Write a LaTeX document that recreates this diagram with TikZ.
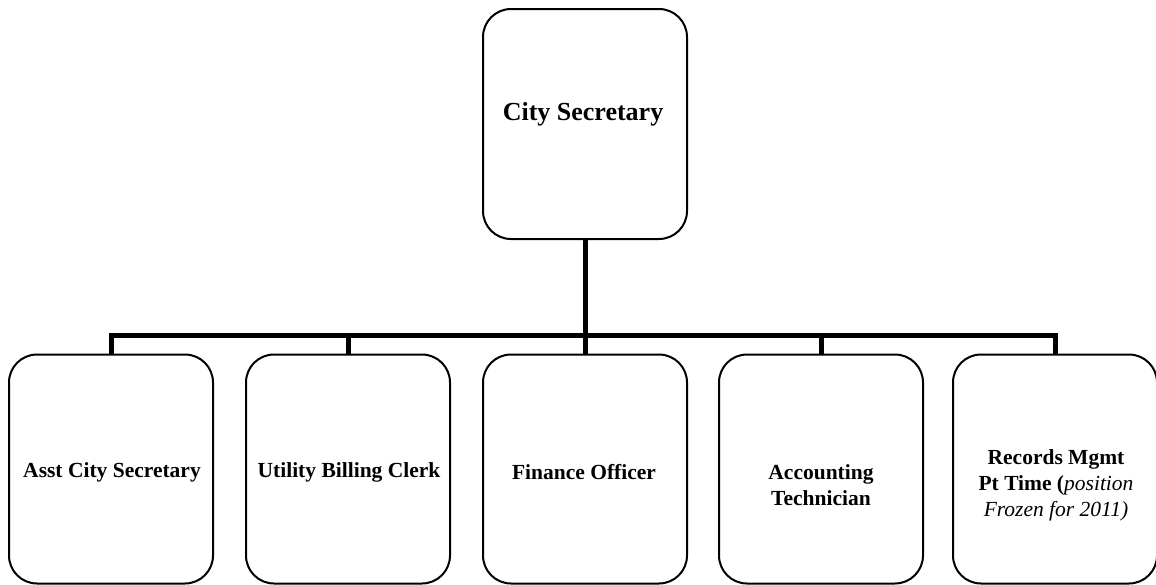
\documentclass[tikz,border=0pt]{standalone}
\usepackage{fontspec}
\setmainfont{Liberation Serif}
\begin{document}
\begin{tikzpicture}[x=1pt,y=-1pt,
  post/.style={draw=black, line width=2pt, rounded corners=28pt, fill=white,
    minimum width=204pt, minimum height=229pt, inner sep=0pt},
  title/.style={align=center, font=\fontsize{21.5}{26}\selectfont\bfseries, inner sep=0pt},
  conn/.style={draw=black, line width=5pt}]
\useasboundingbox (0,0) rectangle (1156,584);

% boxes
\node[post, minimum height=230pt] (top) at (585,124) {};
\node[post] (b1) at (111,469) {};
\node[post] (b2) at (348,469) {};
\node[post] (b3) at (585,469) {};
\node[post] (b4) at (821,469) {};
\node[post] (b5) at (1055,469) {};

% labels
\node[title, font=\fontsize{26}{30}\selectfont\bfseries] (ttop) at (583,114) {City Secretary};
\node[title] (t1) at (112,472) {Asst City Secretary};
\node[title] (t2) at (349,472) {Utility Billing Clerk};
\node[title] (t3) at (584,472) {Finance Officer};
\node[title] (t4) at (821,485) {Accounting\\Technician};
\node[title] (t5) at (1056,485) {Records Mgmt\\Pt Time (\textmd{\itshape position}\\\textmd{\itshape Frozen for 2011)}};

% reporting lines
\coordinate (bar) at (585,335);
\draw[conn] (top.south) -- (top.south |- bar);
\draw[conn] (b1.north) -- (b1.north |- bar) -- (b5.north |- bar) -- (b5.north);
\draw[conn] (b2.north) -- (b2.north |- bar);
\draw[conn] (b3.north) -- (b3.north |- bar);
\draw[conn] (b4.north) -- (b4.north |- bar);
\end{tikzpicture}
\end{document}
